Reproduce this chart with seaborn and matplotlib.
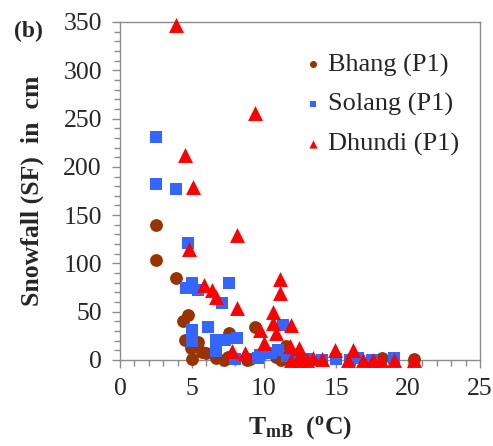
import matplotlib
matplotlib.use("Agg")
import matplotlib.pyplot as plt
from matplotlib.ticker import MultipleLocator
import seaborn as sns
import pandas as pd

# Snowfall (cm) against mean temperature T_mB (deg C) at three stations
bhang_t = [2.5, 2.5, 3.9, 4.7, 4.4, 4.5, 5.4, 4.9, 5.0, 5.7, 6.0, 6.7, 7.2,
           7.5, 7.6, 9.4, 9.0, 8.8, 11.5, 11.2, 10.8, 12.0, 18.2, 20.4]
bhang_sf = [140, 104, 85, 47, 40, 21, 19, 12, 1, 8, 7, 2, 0,
            3, 28, 34, 1, 0, 15, 0, 3, 5, 2, 1]

solang_t = [2.5, 2.5, 3.9, 4.7, 4.6, 5.0, 5.4, 7.6, 7.1, 5.0, 5.0, 6.1, 6.7,
            7.3, 8.1, 6.7, 8.0, 9.6, 11.3, 9.7, 10.5, 11.0, 11.6, 12.2, 13.0,
            14.0, 15.0, 16.0, 16.5, 17.5, 19.0]
solang_sf = [231, 182, 177, 121, 75, 80, 72, 80, 59, 31, 20, 34, 21,
             21, 23, 9, 1, 2, 36, 5, 7, 10, 4, 2, 1,
             0, 1, 0, 2, 0, 2]

dhundi_t = [3.9, 9.4, 4.5, 5.1, 8.1, 4.8, 5.8, 6.4, 6.7, 8.1, 9.7, 10.0,
            11.1, 11.1, 10.6, 10.6, 10.8, 11.9, 7.8, 8.7, 11.8, 12.4, 12.5,
            13.4, 14.0, 14.9, 16.2, 15.8, 16.9, 17.6, 18.1, 19.0, 20.4,
            11.9, 12.5, 13.0]
dhundi_sf = [347, 256, 212, 179, 129, 115, 78, 72, 65, 54, 31, 18,
             84, 69, 50, 38, 28, 36, 9, 7, 14, 12, 5,
             2, 1, 10, 10, 0, 0, 0, 0, 0, 0,
             0, 0, 0]

stations = ["Bhang (P1)", "Solang (P1)", "Dhundi (P1)"]
colors = ["#993300", "#3366FF", "#FF0000"]
markers = ["o", "s", "^"]
sizes = [85, 75, 115]

df = pd.concat([
    pd.DataFrame({"T": bhang_t, "SF": bhang_sf, "station": stations[0]}),
    pd.DataFrame({"T": solang_t, "SF": solang_sf, "station": stations[1]}),
    pd.DataFrame({"T": dhundi_t, "SF": dhundi_sf, "station": stations[2]}),
])

sns.set_style("white")
plt.rcParams["font.family"] = ["Liberation Serif", "DejaVu Serif"]
plt.rcParams["mathtext.fontset"] = "custom"
plt.rcParams["mathtext.rm"] = "Liberation Serif"
plt.rcParams["mathtext.bf"] = "Liberation Serif:bold"

fig = plt.figure(figsize=(4.93, 4.46), dpi=100)
ax = fig.add_axes([120 / 493, 1 - 360 / 446, 360 / 493, 338 / 446])

for name, c, m, s in zip(stations, colors, markers, sizes):
    sns.scatterplot(data=df[df["station"] == name], x="T", y="SF",
                    color=c, marker=m, s=s, linewidth=0, label=name,
                    ax=ax, clip_on=False, zorder=3)

ax.set_xlim(0, 25)
ax.set_ylim(0, 350)
ax.xaxis.set_major_locator(MultipleLocator(5))
ax.xaxis.set_minor_locator(MultipleLocator(1))
ax.yaxis.set_major_locator(MultipleLocator(50))
ax.yaxis.set_minor_locator(MultipleLocator(10))

spine_col = "#8c8c8c"
for sp in ax.spines.values():
    sp.set_color(spine_col)
    sp.set_linewidth(1.0)
ax.tick_params(which="both", direction="out", color=spine_col,
               bottom=True, left=True, top=False, right=False,
               labelsize=18.5, width=1.0)
ax.tick_params(which="major", length=6, pad=7)
ax.tick_params(which="minor", length=4)

ax.set_xlabel(r"$\mathbf{T_{mB}}$  $\mathbf{(^{o}C)}$", fontsize=18.5,
              labelpad=10)
ax.set_ylabel("Snowfall (SF)  in  cm", fontsize=18.5, fontweight="bold",
              labelpad=14)

fig.text(28 / 493, 1 - 31 / 446, "(b)", fontsize=17, fontweight="bold",
         ha="center", va="center")

leg = ax.legend(loc="upper left", bbox_to_anchor=(0.485, 0.94), frameon=False,
                fontsize=19, handlelength=0.6, handletextpad=0.25,
                labelspacing=0.6, markerscale=0.55, borderaxespad=0)

fig.savefig("out.png", dpi=100)
